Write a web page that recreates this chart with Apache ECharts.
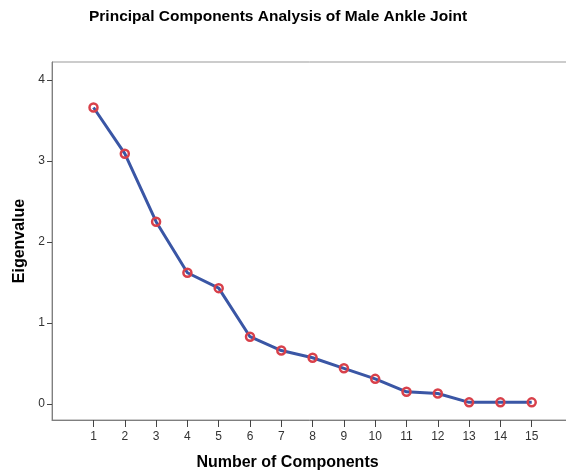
<!DOCTYPE html>
<html>
<head>
<meta charset="utf-8">
<script src="https://cdn.jsdelivr.net/npm/echarts@6/dist/echarts.min.js"></script>
<style>
html,body{margin:0;padding:0;background:#fff;}
#chart{width:566px;height:475px;}
</style>
</head>
<body>
<div id="chart"></div>
<script>
var components = [1,2,3,4,5,6,7,8,9,10,11,12,13,14,15];
var eigenvalues = [3.66,3.09,2.25,1.62,1.43,0.83,0.66,0.57,0.44,0.31,0.15,0.13,0.02,0.02,0.02];
var yTicks = [0,1,2,3,4];

var chart = echarts.init(document.getElementById('chart'));
var font = 'Liberation Sans, Arial, sans-serif';
chart.setOption({
  animation: false,
  backgroundColor: '#fff',
  title: {
    text: 'Principal Components Analysis of Male Ankle Joint',
    left: 84,
    top: 4,
    textStyle: {fontFamily: font, fontSize: 15.5, fontWeight: 'bold', color: '#000'}
  },
  grid: {left: 52, top: 62, right: -10, bottom: 55, outerBoundsMode: 'none', containLabel: false,
         show: true, borderColor: '#999', borderWidth: 1},
  xAxis: {
    type: 'value',
    min: -0.326,
    max: 16.415,
    name: 'Number of Components',
    nameLocation: 'middle',
    nameGap: 35,
    nameTextStyle: {fontFamily: font, fontSize: 16, fontWeight: 'bold', color: '#000', padding: [0, 53, 0, 0]},
    axisLine: {onZero: false, lineStyle: {color: '#7f7f7f', width: 1}},
    axisTick: {show: true, length: 7, inside: false, customValues: components, lineStyle: {color: '#444'}},
    axisLabel: {customValues: components, margin: 11, fontFamily: font, fontSize: 12, color: '#333'},
    splitLine: {show: false}
  },
  yAxis: {
    type: 'value',
    min: -0.198,
    max: 4.222,
    name: 'Eigenvalue',
    nameLocation: 'middle',
    nameGap: 20,
    nameTextStyle: {fontFamily: font, fontSize: 16, fontWeight: 'bold', color: '#000'},
    axisLine: {show: true, onZero: false, lineStyle: {color: '#7f7f7f', width: 1}},
    axisTick: {show: true, length: 5, customValues: yTicks, lineStyle: {color: '#444'}},
    axisLabel: {customValues: yTicks, margin: 7, fontFamily: font, fontSize: 12, color: '#333'},
    splitLine: {show: false}
  },
  series: [{
    type: 'line',
    data: components.map(function (c, i) { return [c, eigenvalues[i]]; }),
    symbol: 'circle',
    symbolSize: 8,
    lineStyle: {color: '#3a56a5', width: 3},
    itemStyle: {color: 'rgba(255,255,255,0)', borderColor: '#d8404a', borderWidth: 2.5},
    z: 3
  }]
});
</script>
</body>
</html>
